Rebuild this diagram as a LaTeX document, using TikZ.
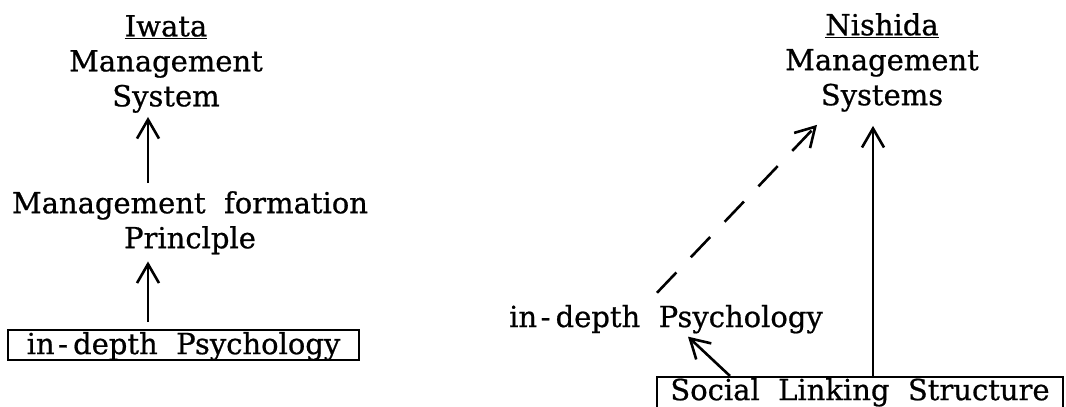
\documentclass[tikz,border=0pt]{standalone}
\usepackage{fontspec}
\setmainfont{DejaVu Serif}[WordSpace=2, FakeBold=0.7]
\usetikzlibrary{arrows.meta}
\newcommand{\indepth}{in\hspace{0.12em}-\hspace{0.18em}depth}
\begin{document}
\begin{tikzpicture}[x=1pt,y=-1pt,
  lbl/.style={font=\fontsize{29}{35}\selectfont, inner sep=0pt, align=center},
  arr/.style={line width=2.6pt, -{Straight Barb[length=19pt,width=22pt,line width=2.6pt]}},
  framed/.style={lbl, draw, line width=2.2pt, inner xsep=0pt, inner ysep=0pt}]
\useasboundingbox (0,0) rectangle (1066,407);
\clip (0,0) rectangle (1066,407);
% left column
\node[lbl, anchor=north] (iwata) at (166,15) {\underline{Iwata}\\Management\\System};
\node[lbl, anchor=north] (lprin) at (190,191) {Management formation\\Princlple};
\node[framed, anchor=north, text height=24pt, text depth=6pt, minimum width=351pt] (lbox) at (183.5,329) {\indepth{} Psychology};
\coordinate (lx) at (148,0);
\draw[arr, shorten <=8pt, shorten >=4pt] (lprin.north -| lx) -- (iwata.south -| lx);
\draw[arr, shorten <=7pt, shorten >=7pt] (lbox.north -| lx) -- (lprin.south -| lx);
% right column
\node[lbl, anchor=north] (nish) at (882,13) {\underline{Nishida}\\Management\\Systems};
\node[lbl, anchor=base] (rpsy) at (666,327) {\indepth{} Psychology};
\node[framed, anchor=north, text height=23pt, text depth=12pt, minimum width=406pt] (rbox) at (860,376) {Social Linking Structure};
\coordinate (rx) at (873,0);
\draw[arr, shorten >=14pt] (rbox.north -| rx) -- (nish.south -| rx);
\draw[arr, dash pattern=on 28pt off 21pt] ([shift={(-9,-12)}]rpsy.north) -- ([shift={(-65,13)}]nish.south);
\draw[arr] ([xshift=-130pt]rbox.north) -- ([shift={(22,3)}]rpsy.south);
\end{tikzpicture}
\end{document}
